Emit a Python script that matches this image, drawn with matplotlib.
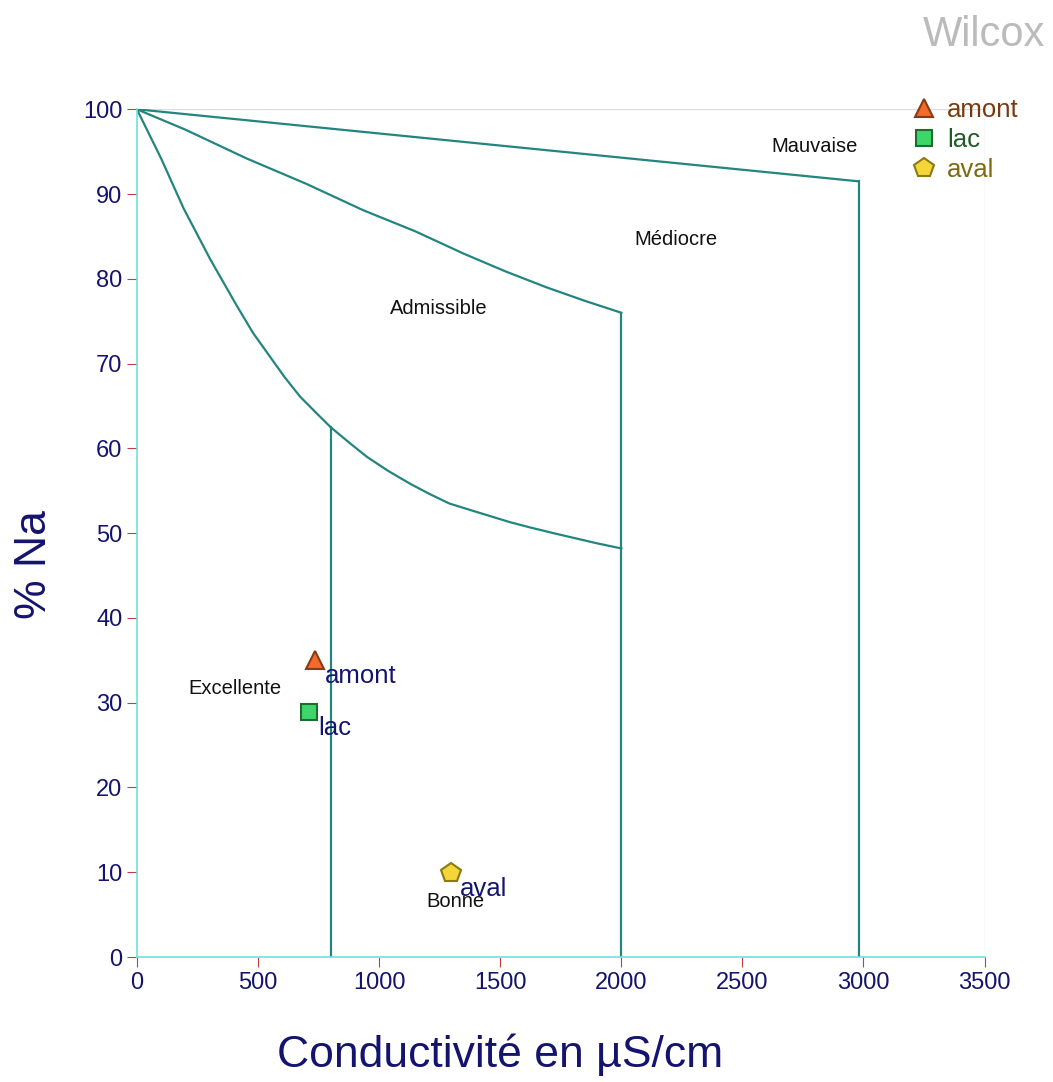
import matplotlib.pyplot as plt
from matplotlib.lines import Line2D

plt.rcParams['font.family'] = ['Liberation Sans', 'DejaVu Sans']

# boundary curves (conductivity, %Na)
curve1_x = [0, 100, 193, 303, 413, 480, 550, 610, 674, 740, 800, 880, 950, 1040, 1130, 1210, 1290, 1380, 1460, 1540, 1620, 1720, 1810, 1900, 2000]
curve1_y = [100, 94.2, 88.3, 82.3, 76.8, 73.6, 70.8, 68.4, 66.1, 64.2, 62.5, 60.6, 59.0, 57.3, 55.8, 54.6, 53.5, 52.7, 52.0, 51.3, 50.7, 50.0, 49.4, 48.8, 48.2]
curve2_x = [0, 200, 453, 700, 934, 1150, 1347, 1520, 1691, 1850, 2000]
curve2_y = [100, 97.6, 94.2, 91.2, 88.1, 85.6, 83.0, 80.9, 79.0, 77.4, 76.0]
curve3_x = [0, 2980]
curve3_y = [100, 91.5]
vlines_x = [800, 2000, 2980]
vlines_top = [62.5, 76.0, 91.5]

zones = ["Mauvaise", "Médiocre", "Admissible", "Excellente", "Bonne"]
zones_x = [2800, 2225, 1245, 404, 1316]
zones_y = [95.6, 84.6, 76.5, 31.7, 6.6]

samples = ["amont", "lac", "aval"]
cond = [735, 710, 1295]
na = [35.0, 28.9, 9.9]
markers = ["^", "s", "p"]
sizes = [13, 11.5, 15]
face = ["#F26B2A", "#3DD66B", "#F5D63A"]
edge = ["#8B3A12", "#1E6B30", "#8A7A10"]
text_col = ["#7A3A10", "#1E5A2A", "#7A6A10"]

teal = "#23857F"
navy = "#14146E"

fig, ax = plt.subplots(figsize=(10.53, 10.82), dpi=100)
fig.subplots_adjust(left=0.130, right=0.935, bottom=0.1155, top=0.899)

ax.plot(curve1_x, curve1_y, color=teal, lw=1.6)
ax.plot(curve2_x, curve2_y, color=teal, lw=1.6)
ax.plot(curve3_x, curve3_y, color=teal, lw=1.6)
for xv, yt in zip(vlines_x, vlines_top):
    ax.plot([xv, xv], [0, yt], color=teal, lw=1.6)

for name, zx, zy in zip(zones, zones_x, zones_y):
    ax.text(zx, zy, name, ha='center', va='center', fontsize=14.5, color='#111111')

for i, s in enumerate(samples):
    ax.plot(cond[i], na[i], marker=markers[i], ms=sizes[i], mfc=face[i], mec=edge[i],
            mew=1.5, ls='none', zorder=5, clip_on=False)
    ax.text(cond[i] + 40, na[i] - 1.9, s, fontsize=18.5, color=navy, ha='left', va='center', zorder=6)

ax.set_xlim(0, 3500)
ax.set_ylim(0, 100)
ax.set_xticks(range(0, 3501, 500))
ax.set_yticks(range(0, 101, 10))
ax.tick_params(colors='#C04040', labelcolor=navy, labelsize=17, length=7, direction='out')

ax.axhline(100, color='#DDDDDD', lw=1, zorder=0)
ax.axvline(3500, color='#DDDDDD', lw=1, zorder=0)
for sp in ['top', 'right']:
    ax.spines[sp].set_visible(False)
for sp in ['left', 'bottom']:
    ax.spines[sp].set_color('#6FE0E0')
    ax.spines[sp].set_linewidth(1.2)

fig.text(500 / 1053, 1 - 1055 / 1082, "Conductivité en µS/cm", fontsize=32, color=navy,
         ha='center', va='center')
fig.text(35 / 1053, 1 - 565 / 1082, "% Na", fontsize=32, color=navy,
         ha='center', va='center', rotation=90)
fig.text(0.993, 1 - 35 / 1082, "Wilcox", fontsize=30, color='#BBBBBB', ha='right', va='center')

handles = [Line2D([], [], marker=markers[i], ms=sizes[i], mfc=face[i], mec=edge[i], mew=1.5, ls='none')
           for i in range(3)]
leg = ax.legend(handles, samples, loc='upper left', bbox_to_anchor=(0.898, 1.026),
                frameon=False, fontsize=18.5, handletextpad=0.3, labelspacing=0.25,
                handlelength=1.2, borderaxespad=0)
for t, c in zip(leg.get_texts(), text_col):
    t.set_color(c)

plt.savefig("out.png", dpi=100)
